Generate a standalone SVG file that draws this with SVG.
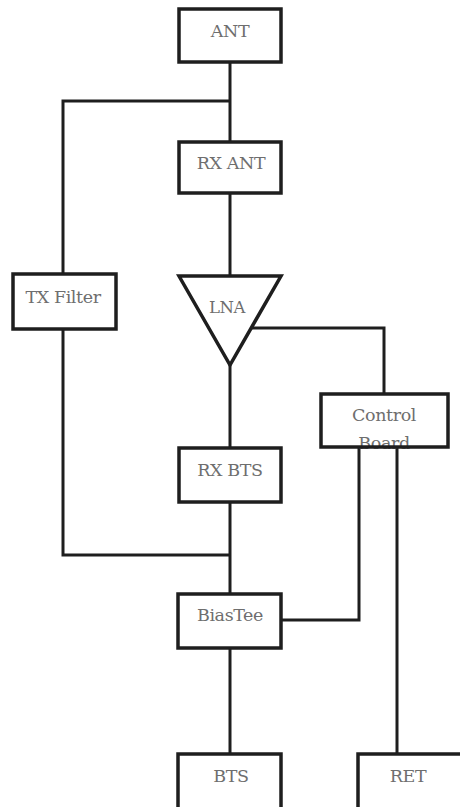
<svg xmlns="http://www.w3.org/2000/svg" width="460" height="807" viewBox="0 0 460 807">
<style>
.box{fill:#fff;stroke:#1e1e1e;stroke-width:3.5}
.border{fill:none;stroke:#1e1e1e;stroke-width:3.5}
.fill{fill:#fff;stroke:none}
.wire{fill:none;stroke:#1e1e1e;stroke-width:3;stroke-linejoin:miter}
.lbl{font-family:'DejaVu Serif',serif;font-size:17.5px;fill:#6e6e6e;text-anchor:middle;letter-spacing:-0.4px}
</style>
<rect width="460" height="807" fill="#fff"/>
<g id="connectors">
<path class="wire" d="M230 62 V142"/>
<path class="wire" d="M230 101 H63 V273"/>
<path class="wire" d="M230 193 V275"/>
<path class="wire" d="M63 329 V555 H230"/>
<path class="wire" d="M251 328 H384 V394"/>
<path class="wire" d="M230 365 V448"/>
<path class="wire" d="M230 502 V594"/>
<path class="wire" d="M281 620 H359 V447"/>
<path class="wire" d="M397 447 V754"/>
<path class="wire" d="M230 648 V754"/>
</g>
<g id="ant"><rect class="box" x="179" y="9" width="102" height="53"/><text class="lbl" x="230" y="37">ANT</text></g>
<g id="rx-ant"><rect class="box" x="179" y="142" width="102" height="51"/><text class="lbl" x="231" y="169">RX ANT</text></g>
<g id="tx-filter"><rect class="box" x="13" y="274" width="103" height="55"/><text class="lbl" x="63" y="303">TX Filter</text></g>
<g id="lna"><polygon class="box" points="179,276 281,276 230,365"/><text class="lbl" x="227" y="313" style="font-size:16.5px">LNA</text></g>
<g id="control-board"><rect class="fill" x="321" y="394" width="127" height="53"/><text class="lbl" x="384" y="421">Control</text><text class="lbl" x="384" y="449">Board</text><rect class="border" x="321" y="394" width="127" height="53"/></g>
<g id="rx-bts"><rect class="box" x="179" y="448" width="102" height="54"/><text class="lbl" x="230" y="476">RX BTS</text></g>
<g id="biastee"><rect class="box" x="178" y="594" width="103" height="54"/><text class="lbl" x="230" y="621">BiasTee</text></g>
<g id="bts"><rect class="box" x="178" y="754" width="103" height="60"/><text class="lbl" x="231" y="782">BTS</text></g>
<g id="ret"><rect class="box" x="358" y="754" width="106" height="60"/><text class="lbl" x="408" y="782">RET</text></g>
</svg>
